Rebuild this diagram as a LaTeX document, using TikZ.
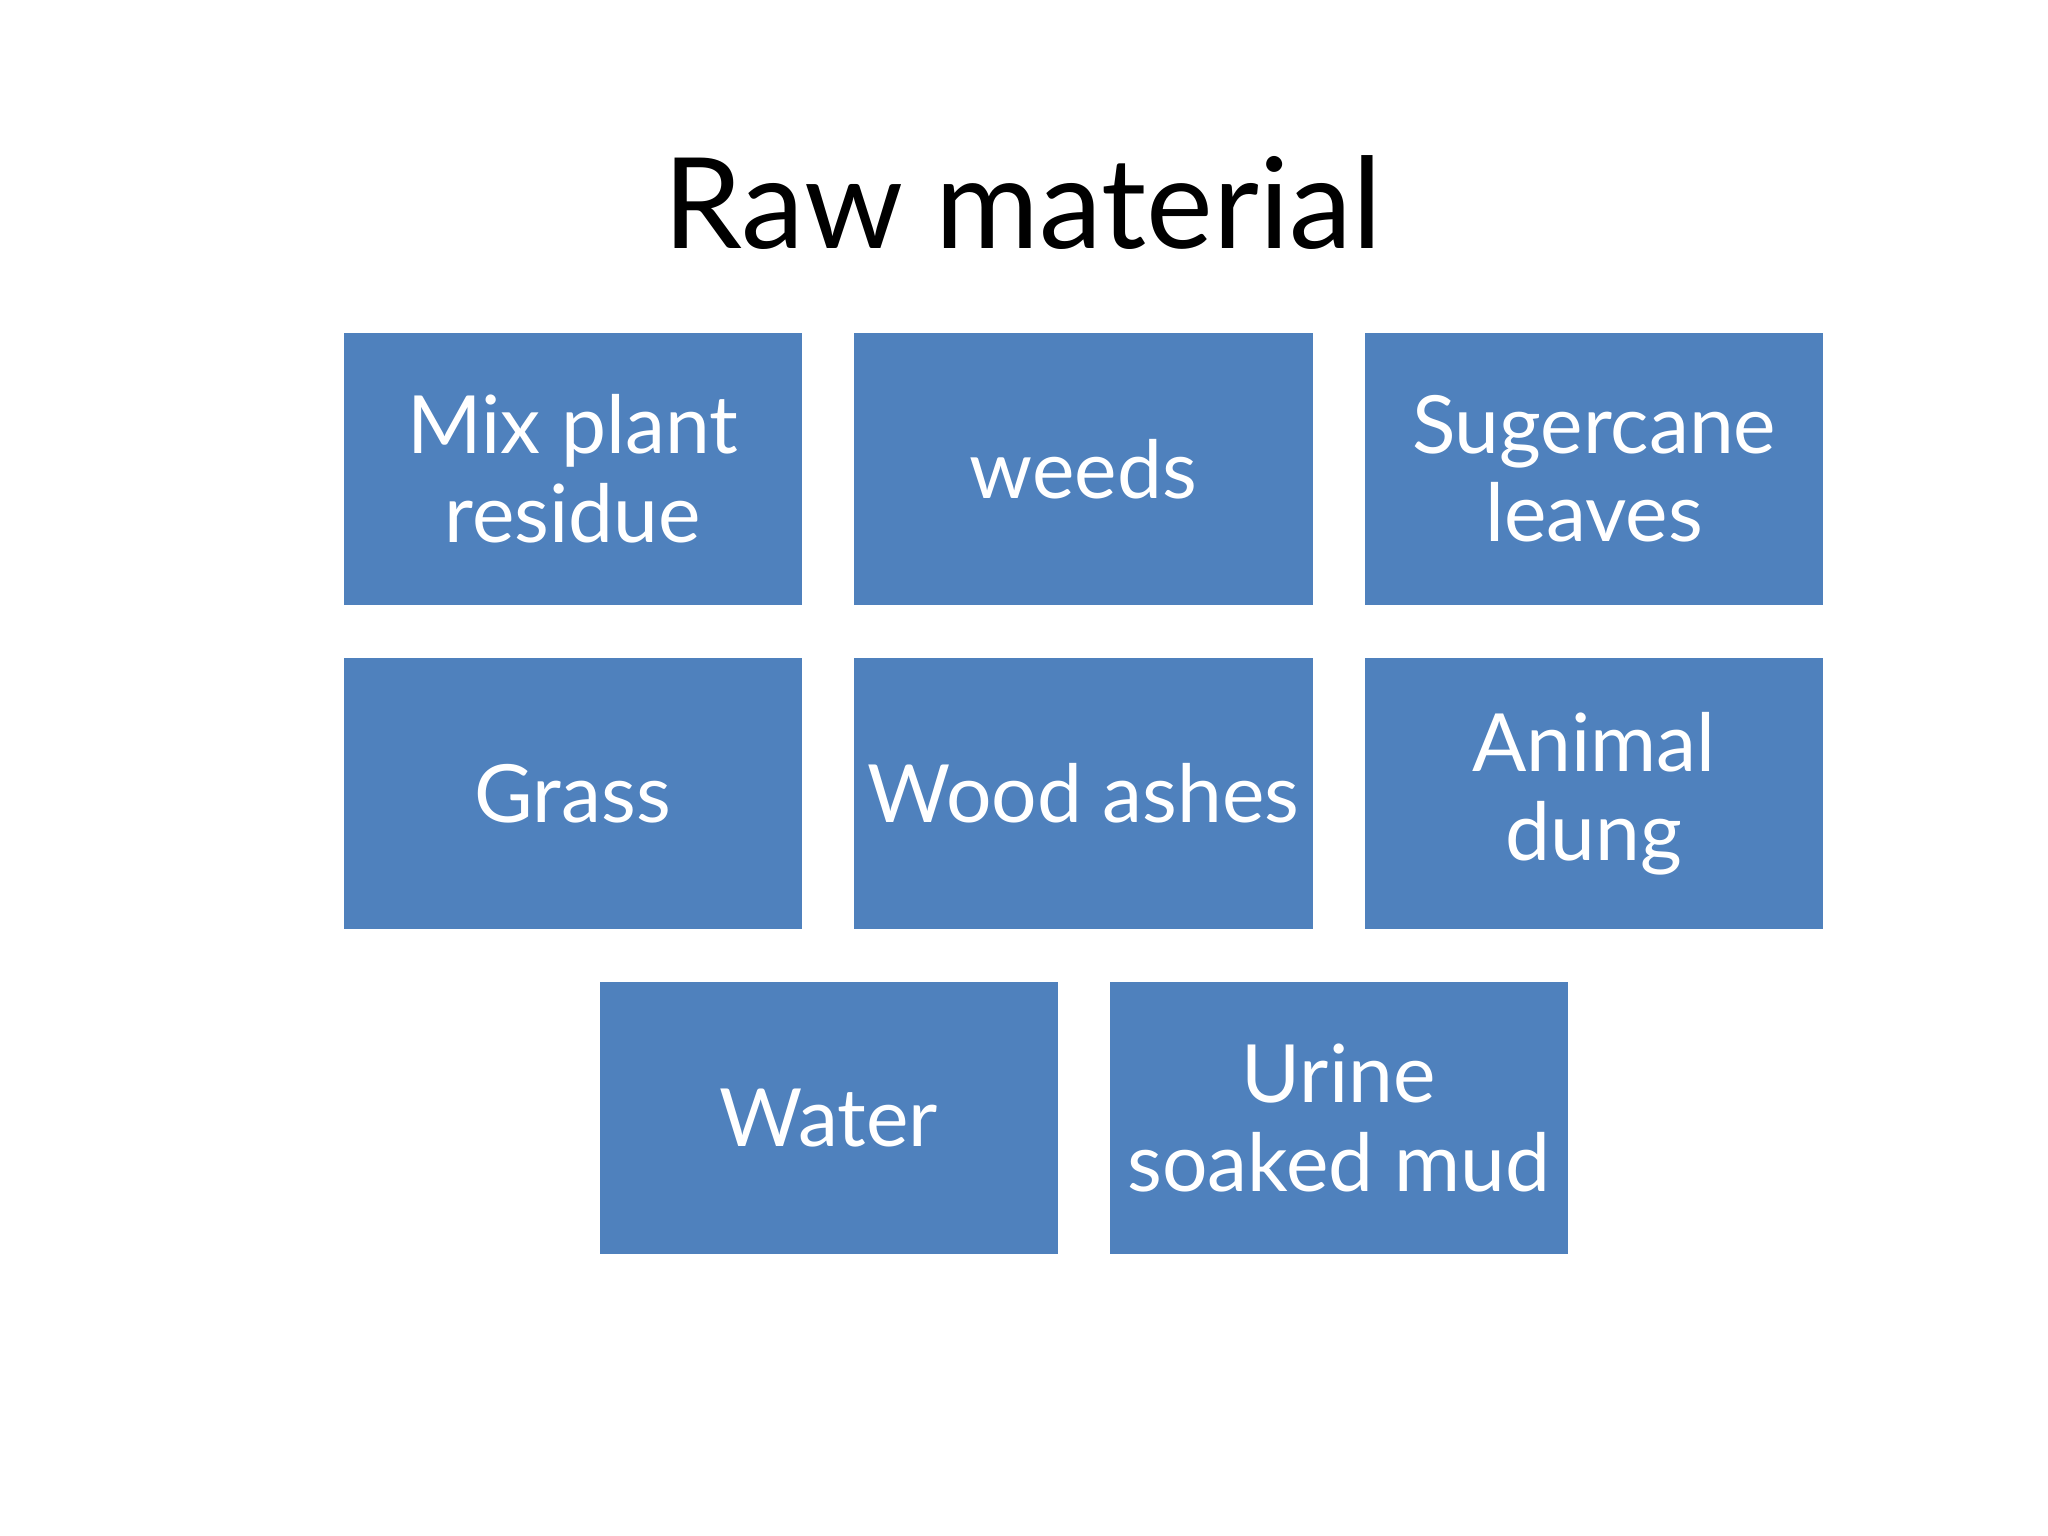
\documentclass[tikz,border=0pt]{standalone}
\usepackage{fontspec}
\setmainfont{Lato}
\definecolor{boxblue}{HTML}{4F81BD}
\begin{document}
\begin{tikzpicture}[x=0.02cm,y=-0.02cm,
  item/.style={fill=boxblue,draw=none,text=white,minimum width=7.02cm,minimum height=4.16cm,inner sep=0pt,align=center,font=\fontsize{35}{38.6}\selectfont}]
\useasboundingbox (0,0) rectangle (1568,1176);
\node[font=\fontsize{55}{60}\selectfont] (title) at (783,155) {Raw material};
\node[item] (a) at (438.5,359) {Mix plant\\residue};
\node[item] (b) at (829.5,359) {weeds};
\node[item] (c) at (1220.5,359) {Sugercane\\leaves};
\node[item] (d) at (438.5,607.5) {Grass};
\node[item] (e) at (829.5,607.5) {Wood ashes};
\node[item] (f) at (1220.5,607.5) {Animal\\dung};
\node[item] (g) at (634.5,856) {Water};
\node[item] (h) at (1025,856) {Urine\\soaked mud};
\end{tikzpicture}
\end{document}
